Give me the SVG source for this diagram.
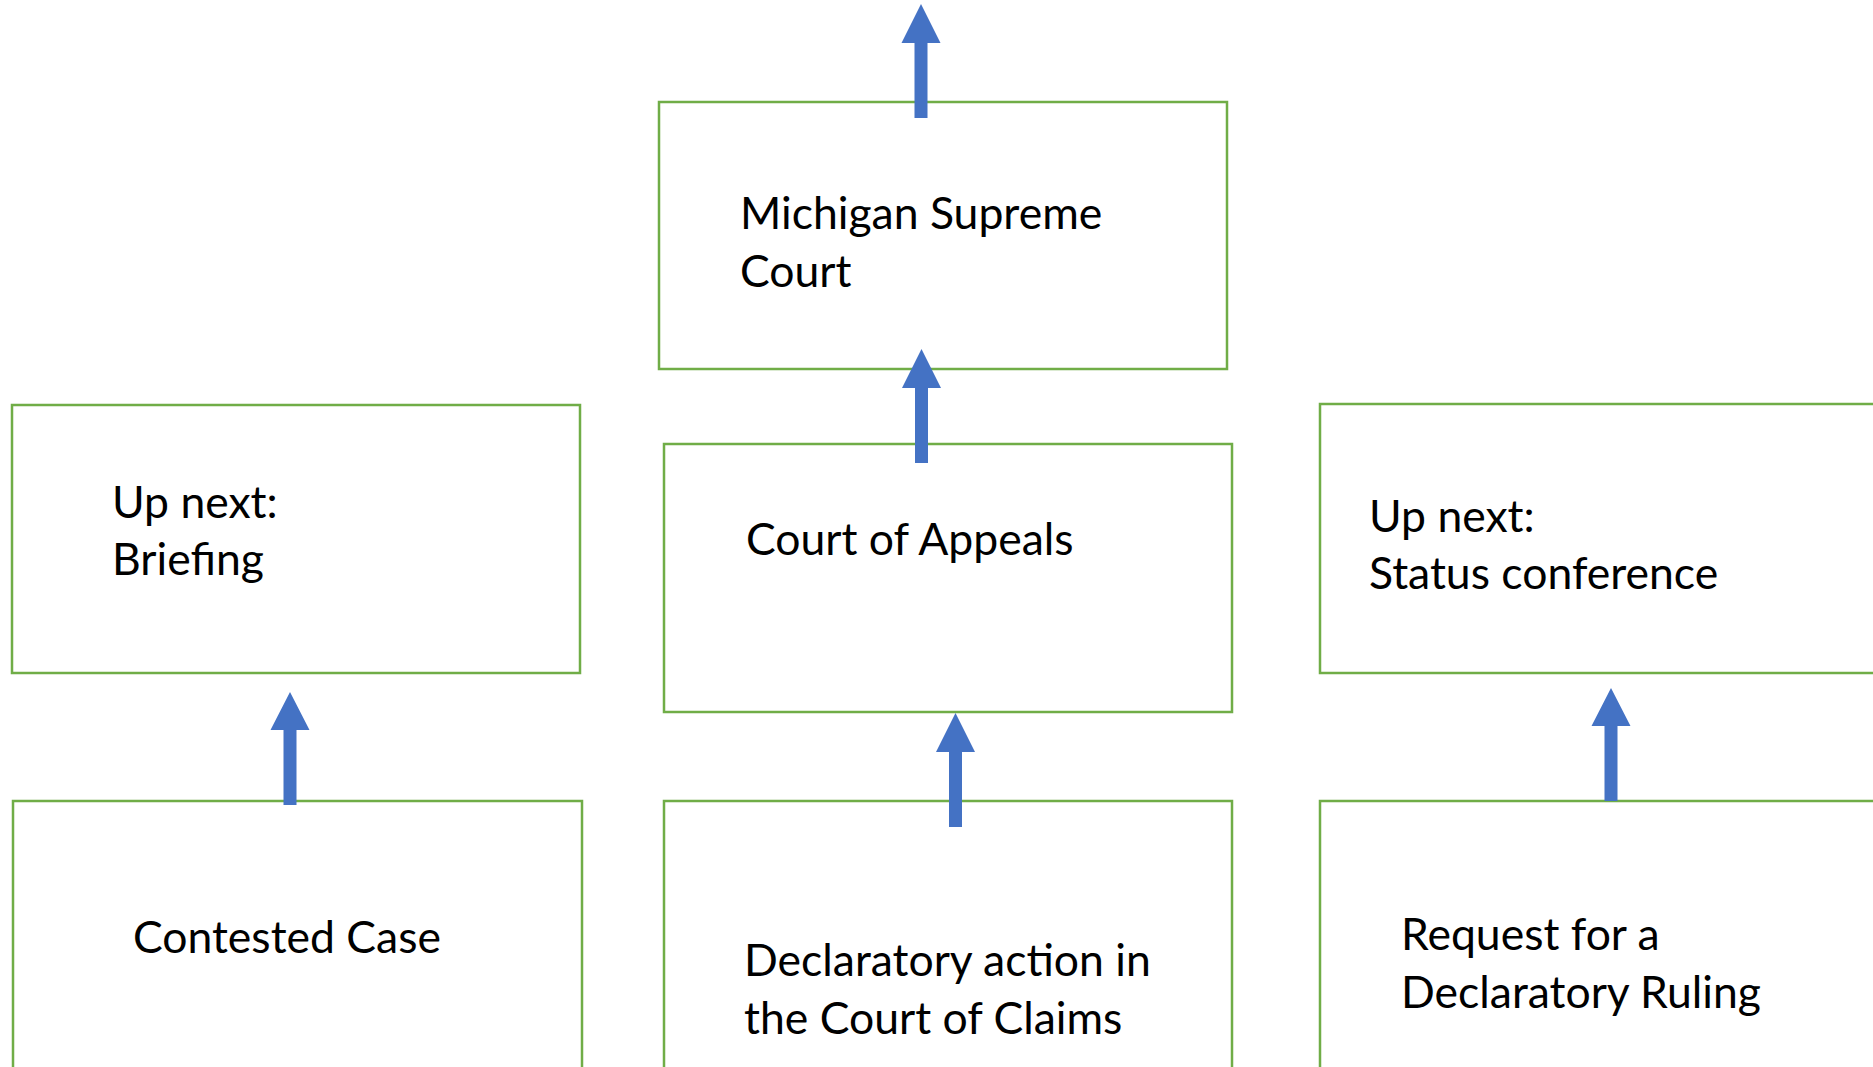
<svg xmlns="http://www.w3.org/2000/svg" width="1873" height="1067" viewBox="0 0 1873 1067">
<style>
.box{fill:#ffffff;stroke:#70AD47;stroke-width:2.5}
.lbl{font-family:Lato,"Open Sans","Liberation Sans",sans-serif;font-size:44.5px;fill:#000000}
.arr{fill:#4472C4;stroke:none}
</style>
<rect x="0" y="0" width="1873" height="1067" fill="#ffffff"/>
<g id="n-michigan"><rect class="box" x="659" y="102" width="568" height="267"/>
<text class="lbl" x="740" y="229">Michigan Supreme</text><text class="lbl" x="740" y="287">Court</text></g>
<g id="n-appeals"><rect class="box" x="664" y="444" width="568" height="268"/>
<text class="lbl" x="746" y="555">Court of Appeals</text></g>
<g id="n-briefing"><rect class="box" x="12" y="405" width="568" height="268"/>
<text class="lbl" x="112" y="518">Up next:</text><text class="lbl" x="112" y="575">Briefing</text></g>
<g id="n-status"><rect class="box" x="1320" y="404" width="600" height="269"/>
<text class="lbl" x="1369" y="532">Up next:</text><text class="lbl" x="1369" y="589">Status conference</text></g>
<g id="n-contested"><rect class="box" x="13" y="801" width="569" height="300"/>
<text class="lbl" x="133" y="953">Contested Case</text></g>
<g id="n-declaratory"><rect class="box" x="664" y="801" width="568" height="300"/>
<text class="lbl" x="744" y="976">Declaratory action in</text><text class="lbl" x="744" y="1034">the Court of Claims</text></g>
<g id="n-request"><rect class="box" x="1320" y="801" width="600" height="300"/>
<text class="lbl" x="1401" y="950">Request for a</text><text class="lbl" x="1401" y="1008">Declaratory Ruling</text></g>
<g id="connectors">
<polygon class="arr" points="921,4 940.5,43 927.5,43 927.5,118 914.5,118 914.5,43 901.5,43"/>
<polygon class="arr" points="921.5,349 941,388 928,388 928,463 915,463 915,388 902,388"/>
<polygon class="arr" points="290,692 309.5,730 296.5,730 296.5,805 283.5,805 283.5,730 270.5,730"/>
<polygon class="arr" points="955.5,713 975,752 962,752 962,827 949,827 949,752 936,752"/>
<polygon class="arr" points="1611,688 1630.5,726 1617.5,726 1617.5,801 1604.5,801 1604.5,726 1591.5,726"/>
</g>
</svg>
